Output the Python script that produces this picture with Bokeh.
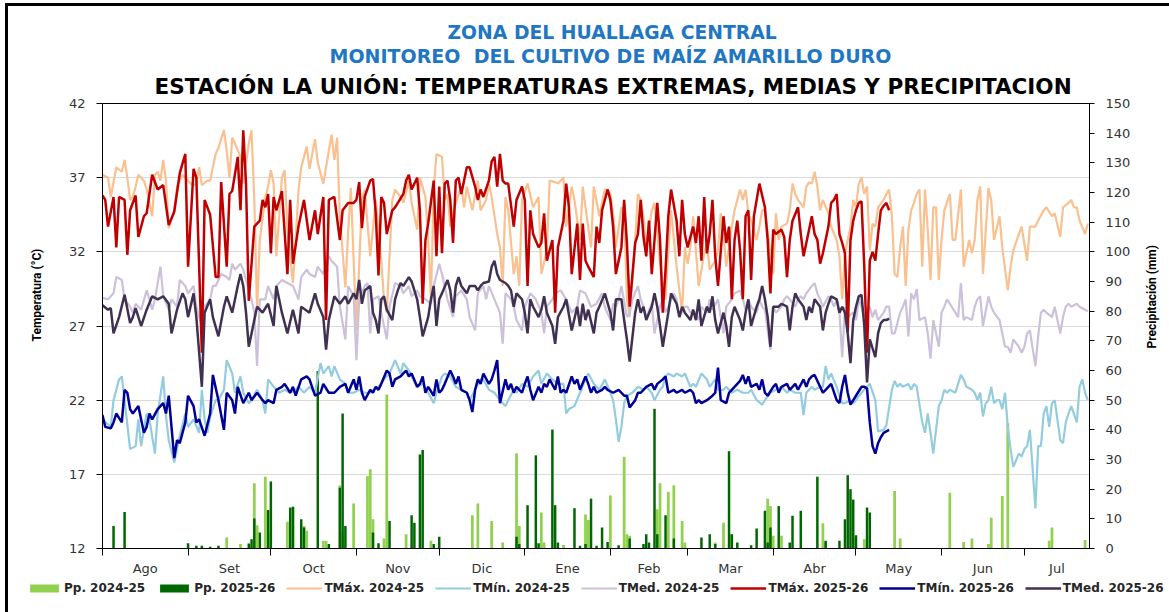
import math
from bokeh.plotting import figure
from bokeh.layouts import column, row
from bokeh.models import (Range1d, LinearAxis, FixedTicker, Title, Legend, LegendItem,
                          ColumnDataSource)
from bokeh.embed import file_html
from bokeh.resources import INLINE

# ---------------- data (day index counted from 1 Aug) ----------------
MONTHS = ["Ago", "Set", "Oct", "Nov", "Dic", "Ene", "Feb", "Mar", "Abr", "May", "Jun", "Jul"]
MONTH_DAYS = [31, 30, 31, 30, 31, 31, 28, 31, 30, 31, 30, 31]
TEMP_TICKS = [12, 17, 22, 27, 32, 37, 42]
PP_TICKS = list(range(0, 151, 10))

TMAX_24 = [(0,37.2),(2,37.0),(3,35.7),(5,37.7),(7,37.4),(8,38.2),(9,37.0),(10,35.5),(11,35.7),(12,36.4),(13,37.2),(15,36.8),(16,36.2),(18,34.4),(19,37.2),(20,37.4),(21,36.8),(22,38.2),(23,36.8),(24,33.6),(26,34.8),(27,36.4),(29,37.2),(30,37.0),(32,36.6),(34,36.5),(35,37.7),(36,36.5),(38,36.8),(39,36.8),(41,38.6),(42,39.0),(44,40.2),(45,38.8),(46,37.0),(47,39.7),(48,39.3),(50,38.4),(51,36.6),(53,39.3),(54,40.2),(55,35.5),(56,28.1),(57,32.8),(59,35.7),(60,36.4),(61,37.5),(62,36.6),(63,31.7),(65,37.0),(66,37.5),(67,33.5),(69,29.9),(70,32.8),(71,36.1),(72,37.7),(74,39.1),(75,37.6),(77,39.6),(78,38.0),(80,36.6),(81,37.7),(83,39.9),(84,38.2),(85,39.7),(86,34.4),(88,29.6),(89,33.4),(90,36.3),(91,31.4),(92,26.7),(94,35.5),(95,36.2),(97,31.7),(99,35.5),(101,31.4),(102,28.8),(103,27.9),(105,35.5),(106,36.2),(108,35.7),(109,35.3),(111,36.8),(112,35.3),(114,33.5),(115,37.0),(117,35.7),(118,32.8),(119,28.8),(120,36.2),(121,38.6),(123,38.4),(124,35.5),(125,35.9),(126,33.7),(128,35.3),(130,36.4),(131,35.0),(132,36.4),(134,34.8),(136,36.8),(137,34.8),(139,35.5),(140,36.6),(141,35.7),(143,33.2),(144,32.3),(145,29.7),(146,35.7),(147,34.8),(149,30.5),(150,31.7),(151,29.7),(152,35.5),(154,36.6),(156,35.0),(158,35.7),(159,30.5),(161,32.1),(162,36.8),(164,36.7),(165,36.6),(167,37.0),(168,33.7),(170,36.4),(171,35.5),(173,32.8),(174,36.4),(175,35.0),(177,32.3),(178,36.4),(180,34.4),(182,36.2),(183,36.2),(184,35.9),(185,34.6),(186,32.3),(188,35.0),(189,34.8),(190,28.8),(191,27.6),(193,32.8),(194,35.9),(195,35.5),(196,34.4),(197,32.3),(199,34.8),(200,35.3),(202,31.2),(203,29.9),(204,28.8),(205,32.1),(206,34.8),(208,31.0),(210,27.9),(211,32.3),(212,31.2),(213,32.3),(214,34.4),(216,29.7),(217,30.8),(218,31.9),(219,32.6),(220,30.8),(222,31.4),(223,32.1),(224,34.6),(225,33.2),(226,31.0),(228,33.7),(229,34.8),(231,36.2),(232,35.5),(233,36.2),(234,34.6),(235,34.1),(237,32.8),(238,33.7),(239,34.8),(240,34.8),(242,31.9),(243,30.5),(244,34.6),(245,32.8),(246,33.7),(248,33.9),(249,34.8),(250,36.6),(251,35.9),(252,35.5),(254,35.0),(255,36.4),(256,36.7),(257,36.6),(258,37.4),(259,36.4),(260,34.8),(261,35.5),(263,34.6),(264,33.7),(266,32.8),(267,31.7),(268,28.8),(269,31.9),(271,33.7),(272,35.5),(273,35.0),(274,36.6),(275,37.0),(276,35.9),(277,36.4),(278,32.1),(279,33.9),(280,33.7),(281,35.0),(283,35.5),(284,35.9),(285,36.2),(286,34.4),(287,30.5),(288,30.3),(289,32.3),(290,33.7),(291,29.7),(292,33.5),(293,34.8),(294,35.3),(295,35.9),(296,36.2),(297,31.0),(298,36.2),(299,33.5),(300,30.1),(301,35.0),(302,35.0),(303,30.1),(304,32.8),(305,34.8),(307,35.9),(308,32.8),(309,32.8),(311,36.2),(312,31.0),(314,32.8),(315,31.9),(316,32.8),(317,35.5),(318,36.4),(319,30.5),(321,36.3),(322,35.5),(323,32.8),(325,34.4),(326,32.3),(328,29.4),(329,31.0),(330,32.1),(332,33.2),(333,33.7),(335,31.4),(336,33.7),(338,33.7),(339,34.1),(341,34.8),(342,35.0),(344,34.4),(345,34.6),(347,33.0),(348,35.0),(350,35.3),(351,35.5),(352,35.0),(353,35.0),(354,34.1),(356,33.2),(357,33.9)]

TMIN_24 = [(0,20.7),(3,20.2),(4,22.0),(6,23.4),(7,23.6),(8,22.0),(10,18.7),(12,18.9),(13,20.7),(14,18.9),(16,21.1),(17,20.7),(19,18.4),(20,21.1),(22,23.6),(23,20.9),(24,19.3),(26,17.8),(28,19.6),(30,21.1),(31,20.2),(33,20.7),(35,19.8),(36,22.7),(37,20.7),(38,19.8),(39,20.9),(41,22.0),(42,22.0),(44,22.7),(45,24.7),(47,23.8),(48,22.5),(50,23.6),(51,22.5),(53,21.8),(54,22.0),(56,22.7),(58,22.0),(59,21.1),(60,23.4),(62,22.9),(64,22.5),(66,22.7),(68,22.5),(70,22.7),(71,22.9),(73,22.5),(75,22.9),(77,22.5),(79,24.5),(80,23.8),(82,24.3),(83,23.6),(84,24.3),(86,23.4),(88,23.1),(89,22.5),(91,22.5),(93,22.7),(95,22.5),(97,22.5),(98,22.7),(100,22.9),(102,23.4),(104,23.8),(106,24.7),(108,23.8),(109,24.5),(111,24.0),(112,23.6),(114,22.9),(116,23.1),(118,22.5),(120,21.8),(121,22.5),(123,23.6),(124,23.8),(126,23.6),(128,22.9),(130,22.7),(132,22.5),(133,22.0),(135,22.7),(137,23.4),(138,23.4),(140,22.7),(142,22.5),(144,22.0),(146,21.6),(147,22.0),(149,22.7),(150,22.5),(152,23.1),(154,22.9),(156,23.6),(158,24.0),(159,23.1),(161,23.8),(163,23.4),(165,23.1),(167,23.1),(168,21.1),(169,21.4),(171,21.6),(173,22.5),(175,23.4),(176,23.8),(178,23.1),(180,22.7),(182,23.4),(184,22.5),(185,22.0),(186,20.7),(187,19.2),(188,20.2),(189,21.8),(190,22.3),(192,22.5),(194,22.9),(196,22.7),(197,22.9),(199,22.5),(200,22.0),(202,22.7),(203,22.9),(204,23.6),(205,23.8),(207,23.6),(208,23.8),(210,23.6),(211,23.8),(213,22.9),(214,23.1),(215,22.9),(217,23.8),(219,23.4),(220,22.9),(222,23.4),(223,22.7),(225,22.7),(226,22.9),(228,22.5),(230,22.7),(232,22.5),(234,22.5),(235,22.7),(237,22.0),(239,21.7),(240,22.0),(242,22.5),(244,22.7),(246,22.9),(248,22.5),(249,22.7),(251,22.5),(253,22.5),(254,21.0),(255,22.5),(257,22.9),(258,22.7),(260,22.9),(261,22.9),(262,24.3),(263,23.4),(264,23.8),(266,22.9),(267,22.3),(268,21.8),(269,21.8),(271,22.0),(272,21.8),(273,22.0),(275,22.5),(276,22.7),(277,22.9),(278,23.1),(280,22.0),(281,19.9),(283,20.0),(284,20.3),(286,22.7),(287,23.3),(288,22.9),(289,23.1),(290,22.9),(292,23.1),(293,22.7),(294,23.1),(295,22.9),(297,20.5),(298,19.8),(299,21.1),(300,19.8),(301,18.4),(303,21.6),(304,22.0),(305,22.7),(306,22.5),(307,22.7),(309,22.5),(310,23.1),(311,23.7),(312,23.4),(313,22.9),(315,22.7),(316,22.5),(317,22.0),(318,22.5),(319,20.9),(320,21.8),(321,22.0),(322,22.9),(323,21.8),(324,22.0),(325,22.0),(326,21.4),(327,22.5),(328,20.2),(329,18.7),(330,17.5),(332,18.4),(333,18.2),(334,18.7),(335,18.9),(336,20.0),(338,14.7),(339,18.9),(340,18.9),(341,21.1),(342,21.6),(343,20.2),(344,21.8),(345,22.0),(347,19.3),(348,19.1),(349,20.5),(350,21.1),(351,21.6),(353,20.5),(354,22.9),(355,23.4),(356,22.5),(357,22.0)]

TMED_24 = [(0,28.9),(2,28.8),(4,29.2),(5,30.3),(7,30.1),(8,28.8),(10,28.3),(11,27.9),(12,28.5),(14,28.1),(16,29.4),(17,28.8),(18,28.1),(19,28.8),(21,31.0),(22,29.0),(24,28.1),(25,28.8),(27,28.3),(28,30.1),(30,29.7),(31,29.2),(33,29.7),(34,28.3),(36,27.0),(37,28.3),(39,28.8),(40,29.7),(41,29.7),(43,30.5),(45,30.3),(46,30.1),(47,31.2),(48,30.8),(50,31.2),(51,30.8),(52,30.1),(54,28.8),(55,27.9),(56,24.3),(57,28.8),(59,28.8),(60,29.7),(62,28.8),(63,29.7),(65,30.1),(67,29.9),(69,29.7),(71,28.8),(72,30.3),(74,30.8),(75,30.5),(77,30.3),(78,31.0),(80,30.5),(82,31.7),(83,31.4),(85,31.0),(86,28.3),(88,26.1),(89,29.7),(91,29.0),(92,24.7),(93,28.8),(95,29.7),(96,29.9),(97,26.5),(98,28.8),(100,29.0),(101,27.9),(103,26.1),(104,28.3),(106,29.9),(108,29.7),(109,29.2),(111,29.7),(112,29.0),(114,29.4),(115,29.0),(117,28.8),(119,28.5),(120,29.7),(122,31.2),(123,30.5),(125,28.8),(127,27.6),(128,29.0),(130,29.4),(132,28.8),(133,27.6),(135,26.7),(136,29.2),(138,29.7),(139,28.8),(140,29.7),(142,28.8),(144,27.9),(145,25.8),(146,29.2),(148,28.8),(149,28.3),(150,27.4),(152,26.7),(153,28.3),(155,29.2),(157,28.8),(159,27.9),(160,26.5),(161,28.3),(163,28.8),(164,29.2),(166,29.4),(168,28.8),(170,27.9),(172,28.3),(173,29.4),(175,29.2),(177,28.3),(179,28.5),(181,29.2),(182,28.3),(184,27.4),(185,28.5),(186,28.3),(187,28.8),(188,29.7),(190,27.6),(191,27.9),(192,28.8),(194,29.7),(195,28.8),(196,28.3),(197,27.6),(199,28.5),(200,26.5),(202,28.3),(203,28.8),(204,27.9),(205,28.3),(207,29.2),(208,28.8),(209,27.6),(211,28.3),(212,28.3),(213,27.9),(215,27.9),(216,27.4),(217,28.3),(219,27.9),(220,28.8),(221,28.1),(223,28.8),(224,27.6),(225,26.5),(226,28.3),(228,28.8),(229,29.2),(231,29.4),(232,28.8),(233,28.1),(234,28.8),(235,28.3),(237,27.9),(238,28.8),(239,28.3),(240,28.1),(242,25.4),(243,28.3),(244,27.9),(246,28.3),(247,28.8),(248,29.0),(249,28.8),(251,28.3),(252,28.8),(253,29.0),(254,28.8),(255,29.2),(257,29.7),(258,29.9),(259,29.2),(260,28.8),(261,28.3),(263,29.0),(264,28.8),(265,28.3),(266,28.8),(267,27.9),(268,24.9),(269,28.3),(270,27.6),(272,27.9),(273,27.4),(274,28.8),(275,28.3),(276,27.6),(278,28.3),(279,27.6),(280,28.1),(281,27.4),(283,27.9),(284,28.3),(285,28.3),(286,26.5),(287,26.5),(289,27.9),(290,28.3),(291,28.8),(292,26.3),(293,29.2),(294,28.8),(295,29.5),(296,27.4),(298,27.6),(299,26.5),(300,24.8),(301,27.4),(303,25.6),(304,27.9),(305,28.3),(306,28.8),(307,28.5),(309,27.9),(310,27.6),(311,29.9),(312,27.4),(313,27.6),(315,27.4),(316,28.3),(317,28.8),(318,29.0),(319,27.0),(321,29.0),(322,28.3),(323,27.9),(325,27.4),(327,25.6),(328,25.6),(329,25.2),(330,26.1),(332,25.6),(333,25.2),(334,25.6),(335,26.5),(336,26.7),(338,24.3),(339,26.3),(340,27.9),(341,28.1),(342,27.9),(344,27.6),(345,28.3),(347,26.5),(348,27.6),(349,28.3),(350,28.5),(351,28.3),(353,28.5),(354,28.3),(356,28.1),(357,28.0)]

TMAX_25 = [(0,35.8),(1,35.5),(2,33.7),(4,35.7),(5,32.3),(6,35.7),(8,35.5),(9,31.8),(10,34.8),(12,35.8),(13,33.0),(15,34.4),(16,34.6),(18,37.2),(20,36.2),(22,36.5),(24,33.8),(26,34.7),(28,37.3),(30,38.6),(31,31.0),(33,37.6),(34,37.0),(36,25.2),(37,35.5),(39,34.5),(41,30.3),(42,30.3),(43,36.7),(45,31.0),(46,35.9),(47,36.1),(49,38.4),(50,34.8),(51,40.2),(52,36.6),(53,28.7),(55,33.7),(57,34.1),(58,35.5),(59,35.0),(60,35.9),(61,31.9),(62,35.7),(63,34.8),(65,36.1),(67,30.5),(68,35.5),(69,31.2),(71,33.7),(73,35.5),(75,32.8),(77,34.8),(78,33.2),(80,35.7),(81,27.4),(82,35.5),(84,35.7),(86,32.8),(87,34.8),(89,35.3),(91,35.3),(92,35.5),(93,36.7),(94,33.6),(95,35.7),(97,36.8),(98,36.9),(99,34.6),(100,30.4),(101,35.7),(102,35.3),(103,33.2),(105,34.8),(106,35.0),(107,35.3),(109,35.9),(110,36.8),(111,37.2),(112,36.2),(114,37.0),(115,34.8),(116,28.5),(117,32.8),(118,33.9),(120,36.8),(121,31.7),(122,36.4),(123,31.9),(124,36.6),(125,36.8),(126,35.5),(127,32.6),(128,36.8),(129,37.0),(130,35.9),(132,37.7),(133,37.7),(135,36.4),(136,35.5),(137,36.2),(138,35.7),(140,36.8),(141,38.1),(142,38.4),(143,36.4),(144,38.6),(145,36.8),(146,36.6),(147,36.6),(149,33.7),(150,35.5),(152,36.4),(153,35.5),(154,29.7),(155,34.8),(156,33.2),(158,32.3),(159,32.6),(160,34.6),(161,31.4),(163,32.8),(164,27.9),(165,32.3),(167,34.1),(168,36.6),(169,35.0),(170,30.5),(172,33.9),(173,30.1),(174,33.9),(175,31.4),(176,31.0),(178,30.3),(179,33.7),(180,32.6),(181,34.8),(183,36.2),(184,35.5),(185,33.7),(186,30.5),(188,32.3),(189,35.5),(190,32.6),(191,28.3),(193,32.6),(194,33.2),(195,35.5),(196,33.0),(197,31.7),(198,34.1),(199,30.5),(200,32.8),(201,35.3),(202,32.8),(203,27.9),(204,30.8),(205,34.4),(206,36.2),(208,34.1),(209,31.7),(210,35.5),(211,33.2),(212,32.3),(214,33.7),(215,32.6),(216,34.4),(217,31.4),(218,35.7),(219,31.9),(220,33.2),(221,35.5),(222,31.7),(223,29.7),(225,34.4),(226,32.6),(227,33.7),(228,28.8),(229,32.8),(230,34.1),(231,32.1),(232,28.8),(233,34.4),(234,34.8),(235,30.1),(236,34.4),(237,35.5),(238,36.6),(240,35.0),(241,32.8),(242,29.2),(243,33.5),(244,33.2),(246,33.5),(247,33.0),(248,30.3),(249,32.8),(250,34.1),(252,35.0),(253,33.2),(254,31.7),(255,32.6),(257,34.4),(258,33.2),(259,32.8),(260,31.2),(261,31.9),(263,33.7),(264,35.3),(265,35.5),(266,35.9),(267,33.2),(268,32.6),(269,31.9),(270,26.6),(271,32.8),(272,34.1),(273,34.8),(274,35.3),(275,35.4),(276,31.0),(277,25.2),(278,31.4),(279,32.0),(280,31.4),(281,33.2),(282,34.8),(283,35.1),(284,35.3),(285,34.8)]

TMIN_25 = [(0,21.0),(1,20.2),(3,20.1),(4,20.5),(5,21.1),(7,20.5),(8,22.7),(9,22.5),(10,21.4),(11,21.1),(13,21.6),(14,20.7),(15,19.8),(16,20.2),(17,21.1),(18,20.7),(20,21.4),(22,21.8),(23,21.1),(24,22.3),(26,18.1),(27,19.3),(28,19.1),(30,20.5),(31,22.3),(33,21.6),(34,20.5),(35,20.7),(37,19.6),(39,21.1),(40,23.7),(42,22.0),(44,20.0),(45,22.5),(47,22.0),(48,21.1),(49,22.9),(51,21.8),(53,22.5),(54,22.0),(56,22.5),(58,22.0),(59,21.8),(60,22.0),(62,21.8),(63,22.7),(65,22.9),(66,23.1),(68,22.5),(69,22.9),(70,22.3),(72,23.4),(74,23.6),(75,23.4),(77,22.3),(79,22.5),(80,23.1),(82,22.5),(84,22.5),(86,22.9),(88,23.1),(89,22.5),(91,23.4),(92,22.7),(93,23.6),(94,22.5),(95,22.0),(97,22.7),(98,22.5),(99,22.9),(100,22.7),(101,23.1),(103,24.0),(104,23.8),(105,22.9),(106,23.4),(108,23.6),(109,23.8),(110,24.0),(111,23.6),(112,23.8),(114,22.9),(115,23.1),(116,23.6),(117,22.5),(118,22.9),(120,22.3),(121,23.4),(122,22.5),(123,22.7),(124,23.1),(126,24.0),(127,23.6),(128,23.1),(129,23.6),(130,22.7),(132,22.5),(133,22.0),(134,21.2),(135,22.7),(136,23.4),(137,23.1),(138,23.8),(140,23.1),(141,23.4),(142,24.0),(143,24.7),(144,21.8),(146,23.4),(147,22.7),(148,23.1),(149,22.5),(150,22.9),(152,22.5),(153,23.1),(154,23.6),(155,22.7),(156,22.0),(158,22.9),(159,22.5),(160,23.1),(161,22.9),(162,23.4),(164,22.7),(165,23.6),(166,22.5),(167,22.7),(168,22.5),(170,23.6),(171,23.1),(172,23.4),(173,22.7),(175,23.6),(176,23.1),(177,22.5),(178,22.9),(179,22.5),(181,22.7),(182,22.9),(183,22.7),(185,22.5),(187,22.7),(188,22.5),(189,22.3),(190,22.3),(191,21.5),(193,22.0),(194,22.5),(195,22.5),(196,22.7),(197,22.9),(199,23.1),(200,22.7),(201,23.1),(203,23.4),(204,23.6),(205,22.5),(207,22.7),(208,22.5),(210,22.7),(211,22.5),(213,22.7),(214,22.5),(215,21.8),(216,22.0),(217,21.8),(219,22.0),(221,22.3),(222,22.5),(223,24.2),(224,22.0),(226,21.8),(227,22.5),(228,22.7),(229,22.9),(231,23.3),(232,23.7),(233,23.1),(234,23.6),(235,22.9),(237,23.1),(238,22.7),(239,23.4),(240,22.5),(241,22.3),(243,22.9),(244,23.1),(245,22.5),(246,22.9),(248,23.1),(249,22.7),(250,22.9),(251,23.1),(252,22.7),(254,23.4),(255,22.9),(256,23.4),(257,23.6),(258,23.7),(260,22.9),(261,22.5),(262,22.7),(263,22.9),(264,23.1),(266,22.0),(267,21.8),(268,22.9),(269,23.7),(270,22.5),(271,21.7),(273,22.3),(274,22.6),(275,22.9),(276,22.9),(277,22.8),(278,20.5),(279,18.9),(280,18.4),(281,19.1),(282,19.5),(283,19.8),(284,19.9),(285,20.0)]

TMED_25 = [(0,28.4),(2,28.1),(3,28.2),(4,26.5),(6,27.6),(8,29.1),(10,27.2),(11,27.6),(12,28.2),(14,27.0),(16,28.1),(18,29.0),(20,28.8),(22,29.0),(24,28.5),(25,26.5),(27,28.1),(29,29.2),(30,28.8),(31,27.6),(33,29.2),(34,27.6),(36,22.9),(37,27.9),(39,28.8),(40,27.6),(42,26.3),(44,28.3),(45,29.0),(47,27.9),(49,29.7),(50,30.5),(51,29.7),(52,27.9),(53,25.6),(54,26.5),(56,28.3),(58,27.9),(60,28.5),(62,27.0),(63,29.7),(65,27.9),(67,26.5),(69,28.1),(71,26.5),(72,28.3),(75,27.9),(77,29.2),(78,28.5),(80,27.6),(81,25.4),(82,27.4),(84,29.0),(86,28.5),(88,29.0),(89,28.5),(91,29.2),(92,28.8),(93,30.1),(94,28.5),(95,29.4),(97,29.7),(98,27.9),(99,27.4),(100,26.5),(101,28.8),(102,29.0),(103,28.1),(105,27.4),(106,28.8),(107,29.4),(108,29.9),(109,29.7),(111,30.3),(112,30.0),(113,29.4),(114,28.8),(115,27.6),(116,26.3),(118,27.6),(119,28.8),(120,29.7),(121,27.0),(122,28.8),(123,29.2),(125,30.1),(126,29.4),(127,27.9),(128,29.7),(129,30.3),(130,29.7),(132,29.2),(133,29.7),(135,29.7),(136,29.4),(137,29.7),(138,29.9),(140,30.0),(141,31.0),(142,31.4),(143,30.5),(144,30.1),(146,29.9),(147,29.7),(148,29.4),(149,28.3),(150,29.2),(152,28.8),(153,27.9),(154,26.5),(155,28.8),(156,28.3),(158,27.6),(159,28.1),(160,29.0),(161,27.9),(163,27.0),(164,25.8),(165,27.6),(167,28.3),(168,28.8),(170,26.7),(172,28.3),(173,27.0),(174,28.5),(175,27.4),(176,28.1),(178,26.5),(179,27.9),(180,28.3),(182,29.2),(184,27.9),(185,26.7),(186,28.8),(188,28.8),(189,27.4),(190,26.1),(191,24.6),(193,27.9),(194,28.8),(195,27.9),(196,28.3),(197,27.4),(199,28.3),(200,29.2),(201,28.3),(202,27.0),(203,25.6),(205,27.9),(206,29.2),(208,28.5),(209,27.6),(210,28.3),(211,27.9),(213,27.4),(214,28.1),(215,27.4),(216,28.8),(217,27.0),(219,28.3),(220,27.9),(221,29.0),(222,27.4),(223,26.5),(225,27.9),(226,27.0),(227,25.6),(228,27.6),(229,28.3),(231,27.4),(232,26.7),(233,27.9),(234,28.8),(235,27.0),(237,28.3),(238,28.8),(239,29.7),(240,28.8),(241,27.6),(242,25.6),(243,28.3),(245,28.3),(246,28.5),(248,28.3),(249,26.7),(250,28.3),(251,29.2),(252,28.8),(254,28.3),(255,27.4),(256,28.3),(257,27.9),(258,28.8),(260,28.3),(261,26.7),(262,27.9),(263,28.5),(264,29.0),(266,28.8),(267,27.9),(268,28.3),(269,27.9),(270,26.5),(271,24.5),(272,27.4),(273,28.3),(274,29.0),(275,29.1),(276,27.0),(277,23.2),(278,26.1),(279,25.5),(280,24.9),(281,26.5),(282,27.2),(283,27.4),(284,27.4),(285,27.5)]

PP_24 = [(45,3.7),(50,1.5),(55,22.0),(56,7.8),(59,24.2),(60,5.4),(67,9.0),(69,13.8),(73,7.6),(74,6.0),(80,2.6),(81,2.6),(86,21.3),(87,5.4),(91,15.2),(96,24.4),(97,26.7),(98,9.9),(102,3.4),(103,51.9),(110,4.8),(119,2.6),(134,11.2),(136,15.2),(141,9.3),(145,2.0),(150,32.1),(151,7.6),(159,12.1),(160,2.0),(167,1.2),(175,11.5),(176,9.6),(184,17.9),(189,30.9),(190,4.8),(191,4.3),(201,13.2),(202,22.0),(205,19.1),(207,21.3),(210,9.3),(211,2.0),(222,2.0),(225,8.7),(228,4.8),(241,16.8),(242,14.3),(243,4.3),(246,4.3),(261,8.5),(262,2.0),(272,3.7),(276,3.1),(287,19.4),(289,3.4),(307,18.8),(312,2.2),(315,3.4),(321,1.5),(322,10.4),(326,17.7),(328,42.2),(343,2.6),(344,7.1),(356,2.9)]

PP_25 = [(4,7.6),(8,12.3),(31,1.8),(34,0.9),(36,0.9),(39,0.6),(42,0.9),(53,1.7),(54,3.1),(55,10.1),(57,5.4),(60,13.0),(61,22.6),(68,13.8),(69,14.1),(72,9.9),(73,7.1),(78,59.8),(82,1.5),(86,20.5),(87,45.5),(88,7.6),(98,5.4),(100,1.8),(104,9.3),(112,11.2),(113,8.7),(115,31.7),(116,33.2),(120,1.5),(122,4.0),(150,4.0),(151,1.5),(154,14.6),(157,31.4),(158,1.8),(163,40.1),(164,14.6),(165,2.0),(171,13.6),(173,0.9),(175,1.5),(177,16.8),(179,0.9),(181,7.1),(183,2.2),(187,1.1),(191,3.4),(196,1.5),(197,4.8),(198,2.0),(200,47.1),(201,4.8),(204,11.2),(207,3.4),(217,3.7),(220,4.8),(222,1.5),(227,32.8),(228,4.8),(230,2.0),(235,1.1),(237,6.7),(240,12.7),(241,2.0),(242,7.1),(245,14.3),(249,2.0),(250,11.0),(253,12.7),(259,24.2),(262,2.6),(267,2.6),(269,9.9),(270,24.7),(271,20.0),(272,16.5),(273,4.5),(277,13.8),(278,12.1)]

X_END = 357.6

# ---------------- styling ----------------
C_PP24, C_PP25 = "#92D050", "#006600"
C_MAX24, C_MIN24, C_MED24 = "#FAC090", "#93CDDD", "#CCC1DA"
C_MAX25, C_MIN25, C_MED25 = "#C00000", "#000099", "#403152"
BLUE = "#1F77C4"
LW24, LW25 = 2.2, 2.5


def src(pairs):
    return ColumnDataSource(dict(d=[a for a, _ in pairs], v=[b for _, b in pairs]))


OX, OY = 8, 6            # canvas origin on the page (margin + 3px border)
W = 1169 - OX
H_LEG = 34
H = 612 - OY - H_LEG
FL, FR, FT, FB = 101, 1089, 103, 549   # frame edges on the page
W_MAIN = 1134 - OX       # main chart canvas ends right after the secondary tick labels
W_RT = W - W_MAIN        # narrow strip holding the secondary axis title

p = figure(width=W_MAIN, height=H, x_range=Range1d(0, X_END), y_range=Range1d(12, 42),
           output_backend="svg", toolbar_location=None, title_location=None,
           min_border_left=FL - OX, min_border_right=W_MAIN - (FR - OX),
           min_border_top=FT - OY, min_border_bottom=H - (FB - OY))
p.background_fill_color = "white"
p.border_fill_color = "white"
p.outline_line_color = "black"
p.outline_line_width = 1

p.extra_y_ranges = {"pp": Range1d(0, 150)}

# bars (secondary axis)
p.vbar(x="d", top="v", width=1.0, bottom=0, source=src(PP_24), y_range_name="pp",
       fill_color=C_PP24, line_color=None)
p.vbar(x="d", top="v", width=0.9, bottom=0, source=src(PP_25), y_range_name="pp",
       fill_color=C_PP25, line_color=None)

# lines
p.line("d", "v", source=src(TMAX_24), line_color=C_MAX24, line_width=LW24)
p.line("d", "v", source=src(TMIN_24), line_color=C_MIN24, line_width=LW24)
p.line("d", "v", source=src(TMED_24), line_color=C_MED24, line_width=LW24)
p.line("d", "v", source=src(TMAX_25), line_color=C_MAX25, line_width=LW25)
p.line("d", "v", source=src(TMIN_25), line_color=C_MIN25, line_width=LW25)
p.line("d", "v", source=src(TMED_25), line_color=C_MED25, line_width=LW25)

# x axis: labels at month centres, tick marks at month boundaries
bounds = [0]
for n in MONTH_DAYS:
    bounds.append(bounds[-1] + n)
centers = []
for i in range(12):
    a, b = bounds[i], min(bounds[i + 1], X_END)
    centers.append((a + b) / 2)
xa = p.xaxis[0]
xa.ticker = FixedTicker(ticks=centers, minor_ticks=[b for b in bounds if b <= X_END])
xa.major_label_overrides = {c: m for c, m in zip(centers, MONTHS)}
xa.major_tick_line_color = None
xa.major_tick_out = 4
xa.major_label_standoff = 5
xa.minor_tick_line_color = "black"
xa.minor_tick_out = 7
xa.minor_tick_in = 0
xa.axis_line_color = "black"
xa.major_label_text_font = "DejaVu Sans"
xa.major_label_text_font_size = "13px"
xa.major_label_text_color = "#333333"
p.xgrid.visible = False

# left axis
ya = p.yaxis[0]
ya.ticker = FixedTicker(ticks=TEMP_TICKS)
ya.minor_tick_line_color = None
ya.major_tick_out = 6
ya.major_tick_in = 0
ya.major_tick_line_color = "black"
ya.axis_line_color = "black"
ya.major_label_standoff = 11
ya.major_label_text_font = "DejaVu Sans"
ya.major_label_text_font_size = "13px"
ya.major_label_text_color = "#333333"
p.ygrid.ticker = FixedTicker(ticks=TEMP_TICKS)
p.ygrid.grid_line_color = "#D9D9D9"

# right axis
ax2 = LinearAxis(y_range_name="pp", ticker=FixedTicker(ticks=PP_TICKS))
ax2.minor_tick_line_color = None
ax2.major_tick_out = 5
ax2.major_tick_in = 0
ax2.major_tick_line_color = "black"
ax2.axis_line_color = "black"
ax2.major_label_standoff = 11
ax2.major_label_text_font = "DejaVu Sans"
ax2.major_label_text_font_size = "13px"
ax2.major_label_text_color = "#333333"
p.add_layout(ax2, "right")

# titles (nearest to the frame first)
t3 = Title(text="ESTACIÓN LA UNIÓN: TEMPERATURAS EXTREMAS, MEDIAS Y PRECIPITACION",
           align="left", offset=52, vertical_align="middle", standoff=8,
           text_font="DejaVu Sans", text_font_style="bold", text_font_size="21.5px",
           text_color="black")
t2 = Title(text="MONITOREO\u00a0 DEL CULTIVO DE MAÍZ AMARILLO DURO",
           align="left", offset=227, vertical_align="middle", standoff=1,
           text_font="DejaVu Sans", text_font_style="bold", text_font_size="19px",
           text_color=BLUE)
t1 = Title(text="ZONA DEL HUALLAGA CENTRAL",
           align="left", offset=345, vertical_align="middle", standoff=0,
           text_font="DejaVu Sans", text_font_style="bold", text_font_size="18.8px",
           text_color=BLUE)
p.add_layout(t3, "above")
p.add_layout(t2, "above")
p.add_layout(t1, "above")

# left axis title
tl = Title(text="Temperatura (°C)", align="left", offset=FB - 342, vertical_align="middle",
           standoff=41, text_font="Roboto", text_font_style="bold", text_font_size="12px",
           text_color="black")
p.add_layout(tl, "left")

# ---------------- strip to the right: secondary axis title ----------------
pr = figure(frame_width=1, frame_height=FB - FT, x_range=Range1d(0, 1), y_range=Range1d(0, 1),
            output_backend="svg", toolbar_location=None, title_location=None,
            x_axis_type=None, y_axis_type=None,
            min_border_left=W_RT - 1, min_border_right=0,
            min_border_top=FT - OY, min_border_bottom=H - (FB - OY))
if "frame_align" in pr.properties():
    pr.frame_align = False
pr.outline_line_color = None
pr.background_fill_color = "white"
pr.border_fill_color = "white"
tr = Title(text="Precipitación (mm)", align="left", offset=FB - 348, vertical_align="middle",
           standoff=W_RT - 1 - 16, text_font="Roboto", text_font_style="bold",
           text_font_size="12px", text_color="black")
pr.add_layout(tr, "left")

# ---------------- legend strip below the chart ----------------
pl = figure(frame_width=W, frame_height=H_LEG, x_range=Range1d(0, 1), y_range=Range1d(0, 1),
            output_backend="svg", toolbar_location=None, title_location=None,
            x_axis_type=None, y_axis_type=None, min_border=0,
            min_border_left=0, min_border_right=0, min_border_top=0, min_border_bottom=0)
if "frame_align" in pl.properties():
    pl.frame_align = False
pl.outline_line_color = None
pl.background_fill_color = "white"
pl.border_fill_color = "white"
# swatch renderers for the legend (their single point lies outside the visible range)
OUT = [5.0]
g_pp24 = pl.vbar(x=OUT, top=OUT, width=1, fill_color=C_PP24, line_color=None)
g_pp25 = pl.vbar(x=OUT, top=OUT, width=1, fill_color=C_PP25, line_color=None)
g_max24 = pl.line(x=OUT, y=OUT, line_color=C_MAX24, line_width=LW24)
g_min24 = pl.line(x=OUT, y=OUT, line_color=C_MIN24, line_width=LW24)
g_med24 = pl.line(x=OUT, y=OUT, line_color=C_MED24, line_width=LW24)
g_max25 = pl.line(x=OUT, y=OUT, line_color=C_MAX25, line_width=LW25)
g_min25 = pl.line(x=OUT, y=OUT, line_color=C_MIN25, line_width=LW25)
g_med25 = pl.line(x=OUT, y=OUT, line_color=C_MED25, line_width=LW25)

legend = Legend(items=[
    LegendItem(label="Pp. 2024-25", renderers=[g_pp24]),
    LegendItem(label="Pp. 2025-26", renderers=[g_pp25]),
    LegendItem(label="TMáx. 2024-25", renderers=[g_max24]),
    LegendItem(label="TMín. 2024-25", renderers=[g_min24]),
    LegendItem(label="TMed. 2024-25", renderers=[g_med24]),
    LegendItem(label="TMáx. 2025-26", renderers=[g_max25]),
    LegendItem(label="TMín. 2025-26", renderers=[g_min25]),
    LegendItem(label="TMed. 2025-26", renderers=[g_med25]),
], orientation="horizontal", location=(18, H_LEG - 5 - 12),
    padding=0, margin=0, spacing=11, glyph_width=36, glyph_height=10,
    label_standoff=2, label_height=12,
    label_text_font="DejaVu Sans", label_text_font_style="bold",
    label_text_font_size="12px", label_text_color="#262626",
    border_line_color=None, background_fill_alpha=0)
pl.add_layout(legend)

layout = column(row(p, pr, spacing=0), pl, spacing=0)
layout.styles = {"margin-left": "5px", "margin-top": "3px",
                 "border-left": "3px solid #000000", "border-top": "3px solid #000000"}

open("out.html", "w").write(file_html(layout, INLINE))
